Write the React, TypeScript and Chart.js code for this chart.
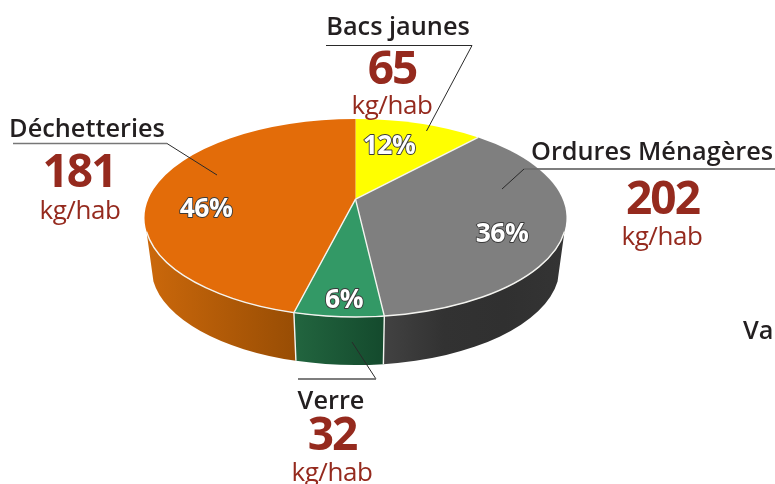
import React, { useEffect, useRef } from "react";
import { Chart, registerables } from "chart.js";

Chart.register(...registerables);

const categories = ["Bacs jaunes", "Ordures Ménagères", "Verre", "Déchetteries"];
const shares = [11.8, 36.4, 5.7, 46.1];
const kgPerHab = [65, 202, 32, 181];
const unit = "kg/hab";
const strayLabel = "Va";

const topColors = ["#FFFF00", "#7F7F7F", "#339966", "#E36C09"];
const wallStops = [
  ["#AAAA00", "#AAAA00"],
  ["#424242", "#323232", "#303030", "#343434"],
  ["#22653F", "#144A2D"],
  ["#CB680B", "#984D04"],
];

const TILT = 0.469;
const APEX = -0.19;
const BOTTOM_DY = 50;
const BOTTOM_RX = 0.967;
const BOTTOM_RY = 0.46;
const WALL_FROM = (98 * Math.PI) / 180;
const WALL_TO = (262 * Math.PI) / 180;

const INK = "#231F20";
const RED = "#952A1E";
const FONT = '"Open Sans", sans-serif';

type Callout = { nameX: number; nameY: number; numX: number; numY: number; unitX: number; unitY: number; path: number[][]; under: boolean };
const callouts: Callout[] = [
  { nameX: 398, nameY: 35, numX: 392, numY: 83.5, unitX: 392, unitY: 114, path: [[326, 45.5], [472, 45.5], [426.5, 131]], under: false },
  { nameX: 652, nameY: 160, numX: 662.5, numY: 214, unitX: 662, unitY: 245, path: [[775, 169], [524, 169], [502, 189]], under: true },
  { nameX: 331, nameY: 409, numX: 332, numY: 450, unitX: 332, unitY: 481, path: [[298, 379], [376, 379], [352, 342]], under: true },
  { nameX: 87, nameY: 137, numX: 79, numY: 187, unitX: 80, unitY: 219, path: [[13, 143.5], [167, 143.5], [217, 175]], under: true },
];
const pctPositions = [
  [389, 146],
  [502, 234],
  [344, 300],
  [206, 209],
];

function rimAngle(theta: number) {
  const x = Math.sin(theta);
  const y = -Math.cos(theta);
  const d = 1 + APEX * y;
  const Y = (y + APEX) / d;
  const X = (x * Math.sqrt(1 - APEX * APEX)) / d;
  let phi = Math.atan2(X, -Y);
  if (phi < 0) phi += 2 * Math.PI;
  if (theta > Math.PI && phi < Math.PI) phi += 2 * Math.PI;
  return phi;
}

const pie3d = {
  id: "pie3d",
  beforeDatasetDraw(chart: any) {
    const ctx: CanvasRenderingContext2D = chart.ctx;
    const arcs = chart.getDatasetMeta(0).data;
    const cx = arcs[0].x;
    const cy = arcs[0].y;
    const rx = arcs[0].outerRadius;
    const ry = rx * TILT;
    const bx = rx * BOTTOM_RX;
    const by = rx * BOTTOM_RY;
    const bcy = cy + BOTTOM_DY;
    const ax = cx;
    const ay = cy + APEX * ry;
    const top = (p: number) => [cx + rx * Math.sin(p), cy - ry * Math.cos(p)];
    const bot = (p: number) => [cx + bx * Math.sin(p), bcy - by * Math.cos(p)];
    const segs = arcs.map((a: any) => [rimAngle(a.startAngle + Math.PI / 2), rimAngle(a.endAngle + Math.PI / 2)]);

    ctx.save();
    // side walls
    segs.forEach(([a, b]: number[], i: number) => {
      const s = Math.max(a, WALL_FROM);
      const e = Math.min(b, WALL_TO);
      if (e <= s) return;
      const x0 = Math.min(top(s)[0], top(e)[0], bot(s)[0], bot(e)[0]);
      const x1 = Math.max(top(s)[0], top(e)[0], bot(s)[0], bot(e)[0]);
      const grad = ctx.createLinearGradient(x0, 0, x1, 0);
      const stops = wallStops[i];
      stops.forEach((c, k) => grad.addColorStop(k / (stops.length - 1), c));
      ctx.beginPath();
      ctx.ellipse(cx, cy, rx, ry, 0, s - Math.PI / 2, e - Math.PI / 2);
      ctx.ellipse(cx, bcy, bx, by, 0, e - Math.PI / 2, s - Math.PI / 2, true);
      ctx.closePath();
      ctx.fillStyle = grad;
      ctx.fill();
    });
    // top wedges
    segs.forEach(([a, b]: number[], i: number) => {
      ctx.beginPath();
      ctx.moveTo(ax, ay);
      ctx.ellipse(cx, cy, rx, ry, 0, a - Math.PI / 2, b - Math.PI / 2);
      ctx.closePath();
      ctx.fillStyle = arcs[i].options.backgroundColor;
      ctx.fill();
    });
    // white edges
    ctx.strokeStyle = "#F4F4F0";
    ctx.lineWidth = 1.4;
    ctx.beginPath();
    ctx.ellipse(cx, cy, rx, ry, 0, WALL_FROM - Math.PI / 2, WALL_TO - Math.PI / 2);
    ctx.stroke();
    segs.forEach(([, b]: number[], i: number) => {
      if (i === segs.length - 1) return;
      const p = top(b);
      ctx.beginPath();
      ctx.moveTo(ax, ay);
      ctx.lineTo(p[0], p[1]);
      if (b > WALL_FROM && b < WALL_TO) {
        const q = bot(b);
        ctx.lineTo(q[0], q[1]);
      }
      ctx.stroke();
    });
    ctx.restore();
    return false;
  },
  afterDatasetsDraw(chart: any) {
    const ctx: any = chart.ctx;
    ctx.save();
    ctx.textAlign = "center";
    ctx.textBaseline = "alphabetic";
    ctx.lineJoin = "round";

    // leader lines
    callouts.forEach((c) => {
      ctx.beginPath();
      c.path.forEach(([x, y], k) => (k ? ctx.lineTo(x, y) : ctx.moveTo(x, y)));
      ctx.strokeStyle = "#2A2A2A";
      ctx.lineWidth = 1;
      ctx.stroke();
      if (c.under) {
        const [p, q] = c.path;
        ctx.beginPath();
        ctx.moveTo(p[0], p[1]);
        ctx.lineTo(q[0], q[1]);
        ctx.strokeStyle = "#777";
        ctx.lineWidth = 1.6;
        ctx.stroke();
      }
    });

    // callout text
    categories.forEach((name, i) => {
      const c = callouts[i];
      ctx.fillStyle = INK;
      ctx.letterSpacing = "0px";
      ctx.font = `600 25.3px ${FONT}`;
      ctx.fillText(name, c.nameX, c.nameY);
      ctx.fillStyle = RED;
      ctx.letterSpacing = "-2px";
      ctx.font = `700 46px ${FONT}`;
      ctx.fillText(String(kgPerHab[i]), c.numX, c.numY);
      ctx.letterSpacing = "-0.4px";
      ctx.font = `400 26px ${FONT}`;
      ctx.fillText(unit, c.unitX, c.unitY);
    });

    // percentages
    ctx.letterSpacing = "-0.6px";
    ctx.textBaseline = "middle";
    ctx.font = `700 26.5px ${FONT}`;
    shares.forEach((v, i) => {
      const [x, y] = pctPositions[i];
      const t = `${Math.round(v)}%`;
      ctx.strokeStyle = "#3A3A3A";
      ctx.lineWidth = 1.8;
      ctx.strokeText(t, x, y);
      ctx.fillStyle = "#FFFFFF";
      ctx.fillText(t, x, y);
    });

    ctx.letterSpacing = "0px";
    ctx.textBaseline = "alphabetic";
    ctx.textAlign = "left";
    ctx.fillStyle = INK;
    ctx.font = `600 25.3px ${FONT}`;
    ctx.fillText(strayLabel, 743, 339);
    ctx.restore();
  },
};

export default function App() {
  const ref = useRef<HTMLCanvasElement>(null);
  useEffect(() => {
    const chart = new Chart(ref.current!, {
      type: "pie",
      data: {
        labels: categories,
        datasets: [{ data: shares, backgroundColor: topColors, borderWidth: 0 }],
      },
      options: {
        responsive: false,
        animation: false,
        layout: { padding: { left: 144.5, right: 208.5, top: 7, bottom: 55 } },
        plugins: { legend: { display: false }, tooltip: { enabled: false } },
      },
      plugins: [pie3d],
    } as any);
    return () => chart.destroy();
  }, []);
  return (
    <div style={{ position: "absolute", left: 0, top: 0, width: 775, height: 484, background: "#fff" }}>
      <canvas ref={ref} width={775} height={484} style={{ display: "block" }} />
    </div>
  );
}
